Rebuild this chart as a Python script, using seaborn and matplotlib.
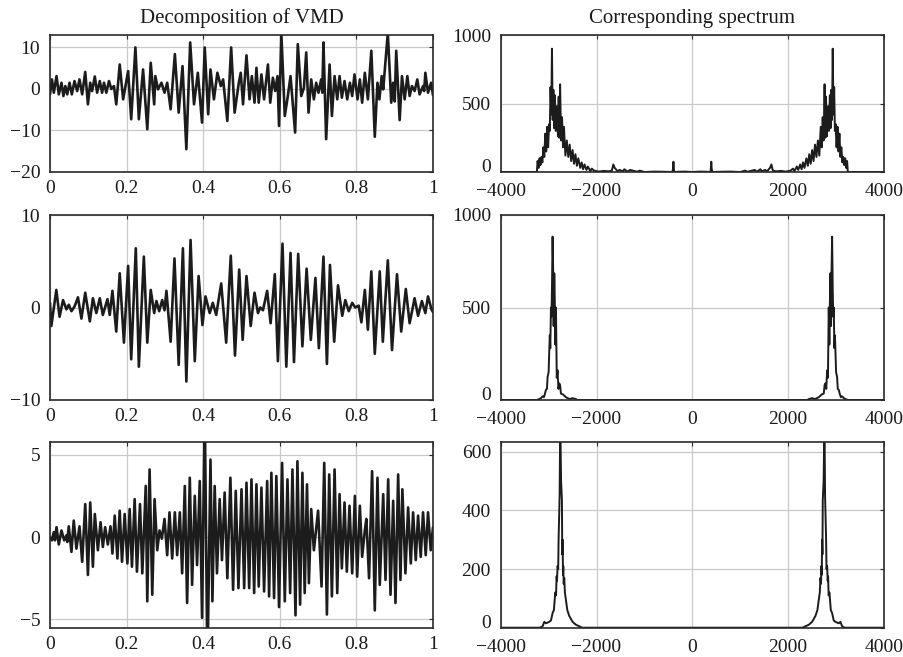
import numpy as np
import pandas as pd
import matplotlib
matplotlib.use("Agg")
import matplotlib.pyplot as plt
import seaborn as sns

# ---------------- data ----------------
# IMF 1 (top-left): (time, amplitude) extrema
IMF1 = [(0.000, -1.3), (0.005, 2.3), (0.010, -0.9), (0.017, 3.1), (0.023, -1.3), (0.030, 1.5),
        (0.035, -1.7), (0.040, 0.7), (0.045, -1.3), (0.051, 1.5), (0.057, -1.3), (0.064, 1.9),
        (0.071, -0.5), (0.077, 2.3), (0.084, -1.3), (0.092, 4.1), (0.099, -3.7), (0.105, 1.5),
        (0.110, -0.5), (0.117, 3.0), (0.123, -0.9), (0.130, 1.9), (0.136, -0.9), (0.141, 1.5),
        (0.147, -0.9), (0.154, 1.9), (0.160, 0.0), (0.167, 0.7), (0.173, -3.7), (0.182, 5.9),
        (0.191, -2.5), (0.204, 4.3), (0.212, -7.3), (0.223, 10.0), (0.232, -7.3), (0.243, 4.7),
        (0.254, -9.7), (0.263, 6.3), (0.272, -3.7), (0.275, 3.1), (0.282, -0.1), (0.291, 1.5),
        (0.299, -0.9), (0.306, 1.5), (0.315, -4.9), (0.326, 8.4), (0.336, -5.7), (0.346, 5.5),
        (0.356, -14.5), (0.366, 11.2), (0.376, -3.7), (0.386, 3.9), (0.397, -8.1), (0.404, 10.0),
        (0.413, -6.1), (0.419, 4.7), (0.428, -2.5), (0.437, 3.9), (0.446, 0.7), (0.452, 2.3),
        (0.463, -7.7), (0.473, 10.0), (0.482, -5.7), (0.493, 1.5), (0.498, 3.9), (0.504, -3.7),
        (0.513, 8.1), (0.521, -2.5), (0.527, 3.1), (0.534, -3.3), (0.539, 5.1), (0.545, -3.3),
        (0.552, 3.5), (0.559, -2.5), (0.569, 5.9), (0.575, -3.3), (0.582, 2.7), (0.588, -0.5),
        (0.594, 3.1), (0.598, -8.9), (0.604, 13.5), (0.613, -6.5), (0.621, -1.7), (0.628, 3.1),
        (0.640, -10.5), (0.647, 10.8), (0.656, -1.7), (0.663, 0.3), (0.669, 8.8), (0.675, -5.7),
        (0.682, 2.3), (0.689, -2.5), (0.695, 1.5), (0.701, -0.9), (0.708, 2.3), (0.711, -0.9),
        (0.714, 11.2), (0.721, -12.1), (0.730, 5.9), (0.736, -6.5), (0.743, 3.1), (0.750, -2.5),
        (0.756, 3.1), (0.762, -2.1), (0.769, 1.9), (0.776, -2.5), (0.783, 1.5), (0.789, -1.7),
        (0.795, 3.5), (0.803, -2.5), (0.809, 2.3), (0.815, -3.3), (0.822, 3.9), (0.830, -2.5),
        (0.839, 9.2), (0.848, -11.5), (0.855, 1.5), (0.860, -2.5), (0.866, 3.1), (0.870, -0.1),
        (0.882, 13.5), (0.891, -3.3), (0.896, 1.5), (0.900, -3.0), (0.904, 9.2), (0.913, -7.5),
        (0.919, 3.1), (0.926, -2.5), (0.933, 3.1), (0.939, -1.7), (0.945, 0.7), (0.952, -0.5),
        (0.959, 2.3), (0.965, -1.3), (0.974, 0.7), (0.977, -0.5), (0.980, 3.9), (0.987, -0.9),
        (0.995, 1.5), (1.000, -1.5)]

# IMF 2 (middle-left)
IMF2 = [(0.000, 0.5), (0.0035, -2.0), (0.0165, 1.9), (0.025, -1.0), (0.034, 0.8), (0.043, -0.2),
        (0.049, 0.3), (0.056, -0.4), (0.064, 0.1), (0.073, 1.1), (0.082, -1.2), (0.092, 1.6),
        (0.104, -1.5), (0.112, 1.0), (0.121, -0.6), (0.130, 1.0), (0.138, -0.8), (0.150, 0.9),
        (0.156, -0.8), (0.163, 1.8), (0.173, -2.6), (0.182, 3.7), (0.193, -3.8), (0.204, 4.5),
        (0.212, -5.6), (0.224, 6.4), (0.232, -6.4), (0.245, 5.5), (0.254, -3.8), (0.263, 1.9),
        (0.272, -0.6), (0.278, 0.7), (0.285, -0.4), (0.293, 0.8), (0.299, -0.3), (0.304, 1.8),
        (0.315, -3.7), (0.325, 5.3), (0.336, -6.2), (0.347, 6.4), (0.356, -8.0), (0.367, 7.3),
        (0.378, -5.8), (0.388, 3.4), (0.398, -1.9), (0.406, 1.2), (0.417, -0.6), (0.425, 0.5),
        (0.434, -0.8), (0.447, 2.6), (0.460, -3.8), (0.472, 5.6), (0.483, -5.2), (0.494, 4.1),
        (0.503, -3.5), (0.513, 3.4), (0.524, -2.0), (0.534, 1.6), (0.543, -0.6), (0.549, 0.0),
        (0.556, -0.3), (0.567, 1.8), (0.576, -1.7), (0.587, 3.6), (0.595, -5.8), (0.607, 6.9),
        (0.617, -6.4), (0.628, 5.9), (0.637, -5.9), (0.648, 5.8), (0.659, -4.2), (0.670, 4.2),
        (0.681, -3.5), (0.693, 3.2), (0.702, -4.4), (0.714, 5.5), (0.723, -6.1), (0.731, 4.6),
        (0.742, -3.7), (0.752, 2.4), (0.763, -0.9), (0.771, 0.8), (0.780, -0.4), (0.789, 0.5),
        (0.797, 0.0), (0.806, 0.2), (0.813, -1.6), (0.822, 1.9), (0.830, -2.4), (0.839, 3.9),
        (0.848, -5.0), (0.861, 3.9), (0.869, -3.7), (0.882, 5.1), (0.893, -4.6), (0.906, 3.6),
        (0.917, -2.6), (0.929, 2.0), (0.939, -1.7), (0.952, 1.0), (0.961, -0.9), (0.971, 0.7),
        (0.980, -0.6), (0.987, 1.2), (0.996, -0.2), (1.000, -0.5)]

# IMF 3 (bottom-left)
IMF3 = [(0.000, 0.0), (0.005, -0.2), (0.010, 0.3), (0.013, -0.2), (0.017, 0.6), (0.023, -0.45),
        (0.030, 0.4), (0.037, -0.2), (0.043, 0.1), (0.045, -0.3), (0.049, 0.65), (0.056, -0.9),
        (0.062, 1.0), (0.069, -0.7), (0.077, 0.65), (0.084, -1.5), (0.092, 2.0), (0.099, -2.3),
        (0.105, 2.1), (0.112, -1.8), (0.117, 1.4), (0.125, -0.8), (0.132, 0.9), (0.138, -0.6),
        (0.144, 0.6), (0.151, -0.45), (0.158, 0.65), (0.163, -1.0), (0.169, 1.3), (0.176, -1.3),
        (0.182, 1.6), (0.188, -1.5), (0.195, 1.4), (0.202, -1.6), (0.208, 1.7), (0.214, -1.8),
        (0.221, 2.3), (0.227, -2.1), (0.235, 2.0), (0.241, -2.2), (0.250, 3.1), (0.254, -3.9),
        (0.260, 4.1), (0.267, -3.5), (0.273, 2.3), (0.280, -0.8), (0.286, 0.4), (0.292, -0.1),
        (0.299, 1.1), (0.306, -1.1), (0.312, 1.5), (0.319, -1.3), (0.326, 1.5), (0.332, -1.1),
        (0.339, 1.5), (0.345, -2.2), (0.352, 3.1), (0.358, -4.0), (0.365, 3.6), (0.371, -2.9),
        (0.378, 2.5), (0.384, -1.7), (0.391, 3.4), (0.397, -4.9), (0.404, 8.0), (0.411, -8.0),
        (0.419, 4.7), (0.424, -3.9), (0.430, 3.1), (0.436, -2.2), (0.443, 2.3), (0.449, -1.4),
        (0.456, 2.7), (0.463, -2.5), (0.471, 3.6), (0.478, -3.2), (0.485, 2.8), (0.492, -3.1),
        (0.500, 2.9), (0.507, -3.1), (0.513, 3.3), (0.520, -3.1), (0.526, 3.5), (0.533, -3.4),
        (0.539, 3.2), (0.545, -3.0), (0.552, 3.0), (0.559, -3.3), (0.567, 3.4), (0.572, -3.6),
        (0.578, 3.9), (0.585, -3.7), (0.591, 3.7), (0.598, -4.25), (0.606, 4.5), (0.613, -3.9),
        (0.620, 3.5), (0.627, -3.4), (0.633, 4.1), (0.641, -4.75), (0.646, 4.6), (0.653, -4.1),
        (0.659, 3.9), (0.665, -3.4), (0.671, 3.2), (0.676, -2.8), (0.682, 1.7), (0.689, -0.8),
        (0.700, 1.6), (0.709, -3.0), (0.716, 4.5), (0.723, -4.7), (0.729, 3.8), (0.736, -3.6),
        (0.743, 4.1), (0.750, -3.4), (0.756, 2.6), (0.762, -1.9), (0.769, 2.1), (0.775, -2.1),
        (0.782, 1.9), (0.789, -2.2), (0.796, 2.5), (0.802, -2.4), (0.809, 1.9), (0.815, -1.2),
        (0.822, 0.4), (0.826, 1.1), (0.833, -2.5), (0.841, 4.0), (0.848, -4.45), (0.855, 3.6),
        (0.861, -2.9), (0.870, 2.6), (0.876, -2.6), (0.883, 3.5), (0.889, -3.5), (0.896, 2.2),
        (0.902, -4.0), (0.909, 3.8), (0.915, -2.6), (0.920, 2.9), (0.928, -2.2), (0.935, 1.8),
        (0.942, -1.6), (0.948, 1.5), (0.955, -1.4), (0.961, 1.3), (0.968, -1.2), (0.974, 1.5),
        (0.981, -1.1), (0.987, 1.5), (0.994, -0.8), (1.000, 0.6)]

# Spectra (positive-frequency half, Hz, magnitude); the plots are symmetric about 0
SPEC1 = [(0, 0), (150, 3), (300, 2), (380, 0), (395, 75), (405, 20), (420, 0), (600, 2), (800, 3),
         (1000, 0), (1100, 10), (1150, 2), (1300, 15), (1350, 3), (1420, 20), (1450, 5), (1520, 15),
         (1560, 5), (1620, 30), (1650, 55), (1680, 10), (1750, 5), (1850, 8), (1950, 3), (2050, 10),
         (2100, 25), (2130, 5), (2180, 40), (2210, 15), (2250, 55), (2280, 20), (2310, 70), (2340, 30),
         (2380, 100), (2410, 45), (2440, 130), (2470, 60), (2500, 160), (2530, 80), (2560, 200),
         (2590, 110), (2620, 230), (2650, 120), (2680, 330), (2700, 180), (2720, 400), (2740, 230),
         (2760, 640), (2775, 250), (2790, 550), (2805, 260), (2830, 480), (2850, 300), (2870, 560),
         (2885, 320), (2900, 600), (2915, 380), (2930, 900), (2945, 420), (2960, 620), (2975, 300),
         (2990, 350), (3010, 180), (3030, 330), (3050, 150), (3070, 280), (3090, 110), (3110, 180),
         (3130, 70), (3150, 110), (3170, 50), (3190, 100), (3210, 30), (3230, 80), (3245, 0),
         (4000, 0)]

SPEC2 = [(0, 0), (2400, 0), (2431, 5), (2500, 10), (2560, 5), (2639, 15), (2700, 30), (2743, 35),
         (2760, 80), (2778, 90), (2795, 60), (2813, 160), (2830, 120), (2847, 500), (2860, 300),
         (2870, 520), (2882, 685), (2895, 400), (2905, 700), (2917, 883), (2930, 600), (2940, 450),
         (2951, 500), (2965, 280), (2975, 350), (2986, 270), (3000, 150), (3021, 125), (3035, 60),
         (3056, 55), (3080, 30), (3100, 15), (3125, 20), (3160, 10), (3194, 5), (3250, 0), (4000, 0)]

SPEC3 = [(0, 0), (2300, 0), (2361, 5), (2430, 10), (2500, 20), (2569, 40), (2610, 60), (2639, 95),
         (2660, 120), (2674, 170), (2685, 150), (2694, 210), (2700, 180), (2708, 300), (2715, 250),
         (2722, 435), (2740, 500), (2757, 720), (2770, 450), (2792, 300), (2800, 200), (2813, 210),
         (2825, 160), (2833, 175), (2845, 110), (2861, 120), (2890, 60), (2917, 50), (2950, 25),
         (2986, 20), (3056, 15), (3090, 20), (3125, 5), (3180, 0), (4000, 0)]

TIME_TICKS = [0, 0.2, 0.4, 0.6, 0.8, 1.0]
TIME_LABELS = ["0", "0.2", "0.4", "0.6", "0.8", "1"]
FREQ_TICKS = [-4000, -2000, 0, 2000, 4000]
LEFT_YTICKS = [[-20, -10, 0, 10], [-10, 0, 10], [-5, 0, 5]]
LEFT_YLIM = [(-20, 13), (-10, 10), (-5.5, 5.75)]
RIGHT_YTICKS = [[0, 500, 1000], [0, 500, 1000], [0, 200, 400, 600]]
RIGHT_YLIM = [(0, 1000), (0, 1000), (0, 632)]

# ---------------- styling ----------------
sns.set_style("white")
plt.rcParams["font.family"] = ["Liberation Serif", "DejaVu Serif"]
plt.rcParams["axes.unicode_minus"] = True

W, H = 904, 657
fig = plt.figure(figsize=(W / 100, H / 100), dpi=100)

rows_px = [(35, 172), (215, 400), (442.3, 627.7)]
left_px = (50, 433)
right_px = (500.7, 884)

LINE = "#1c1c1c"
GRID = "#c9c9c9"


def make_ax(xpx, ypx):
    x0, x1 = xpx
    y0, y1 = ypx
    return fig.add_axes([x0 / W, 1 - y1 / H, (x1 - x0) / W, (y1 - y0) / H])


def style(ax, xpad):
    ax.set_axisbelow(True)
    ax.grid(True, color=GRID, linewidth=0.9)
    for s in ax.spines.values():
        s.set_visible(True)
        s.set_color("#2a2a2a")
        s.set_linewidth(1.2)
    ax.tick_params(direction="in", length=3, width=0.8, top=True, right=True,
                   labelsize=14, colors="#2a2a2a", labelcolor="#1a1a1a")
    ax.tick_params(axis="x", pad=xpad)
    ax.tick_params(axis="y", pad=7)
    ax.set_xlabel("")
    ax.set_ylabel("")


imfs = [IMF1, IMF2, IMF3]
specs = [SPEC1, SPEC2, SPEC3]

for i in range(3):
    # left: time signal
    axl = make_ax(left_px, rows_px[i])
    df = pd.DataFrame(imfs[i], columns=["t", "v"])
    sns.lineplot(data=df, x="t", y="v", ax=axl, color=LINE, linewidth=1.9,
                 sort=False, estimator=None)
    axl.set_xlim(0, 1)
    axl.set_ylim(*LEFT_YLIM[i])
    axl.set_xticks(TIME_TICKS)
    axl.set_xticklabels(TIME_LABELS)
    axl.set_yticks(LEFT_YTICKS[i])
    style(axl, 6)

    # right: spectrum (mirrored about 0 Hz)
    axr = make_ax(right_px, rows_px[i])
    sp = pd.DataFrame(specs[i], columns=["f", "m"])
    neg = sp.iloc[::-1].copy()
    neg["f"] = -neg["f"]
    full = pd.concat([neg, sp], ignore_index=True)
    sns.lineplot(data=full, x="f", y="m", ax=axr, color=LINE, linewidth=1.4,
                 sort=False, estimator=None)
    axr.set_xlim(-4000, 4000)
    axr.set_ylim(*RIGHT_YLIM[i])
    axr.set_xticks(FREQ_TICKS)
    axr.set_yticks(RIGHT_YTICKS[i])
    style(axr, 8)
    axr.yaxis.get_major_ticks()[0].label1.set_va("baseline")

    if i == 0:
        axl.set_title("Decomposition of VMD", fontsize=15, pad=9, color="#1a1a1a")
        axr.set_title("Corresponding spectrum", fontsize=15, pad=9, color="#1a1a1a")

fig.savefig("out.png", dpi=100)
